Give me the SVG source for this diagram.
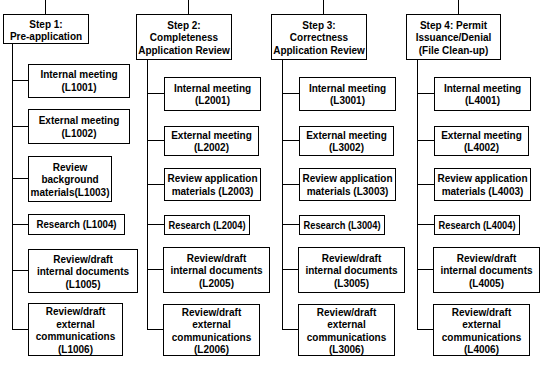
<svg xmlns="http://www.w3.org/2000/svg" width="548" height="368" viewBox="0 0 548 368">
<style>
rect{fill:#fff;stroke:#000;stroke-width:1}
line{stroke:#000;stroke-width:1}
text{font-family:"Liberation Sans",Arial,sans-serif;font-weight:bold;font-size:10px;text-anchor:middle;fill:#000}
</style>
<rect x="0" y="0" width="548" height="368" style="stroke:none"/>
<g id="connectors">
<line x1="45.5" y1="0" x2="45.5" y2="14"/>
<line x1="12.5" y1="43" x2="12.5" y2="329.5"/>
<line x1="12" y1="80.5" x2="28" y2="80.5"/>
<line x1="12" y1="126.5" x2="28" y2="126.5"/>
<line x1="12" y1="178.5" x2="28" y2="178.5"/>
<line x1="12" y1="224.5" x2="28" y2="224.5"/>
<line x1="12" y1="270.5" x2="28" y2="270.5"/>
<line x1="12" y1="329.5" x2="28" y2="329.5"/>
<line x1="188.5" y1="0" x2="188.5" y2="14"/>
<line x1="147.5" y1="59" x2="147.5" y2="329.5"/>
<line x1="147" y1="93.5" x2="164" y2="93.5"/>
<line x1="147" y1="140.5" x2="164" y2="140.5"/>
<line x1="147" y1="184.5" x2="164" y2="184.5"/>
<line x1="147" y1="224.5" x2="164" y2="224.5"/>
<line x1="147" y1="269.5" x2="163" y2="269.5"/>
<line x1="147" y1="329.5" x2="163" y2="329.5"/>
<line x1="323.5" y1="0" x2="323.5" y2="14"/>
<line x1="282.5" y1="59" x2="282.5" y2="329.5"/>
<line x1="282" y1="93.5" x2="299" y2="93.5"/>
<line x1="282" y1="140.5" x2="299" y2="140.5"/>
<line x1="282" y1="184.5" x2="299" y2="184.5"/>
<line x1="282" y1="224.5" x2="299" y2="224.5"/>
<line x1="282" y1="269.5" x2="298" y2="269.5"/>
<line x1="282" y1="329.5" x2="298" y2="329.5"/>
<line x1="458.5" y1="0" x2="458.5" y2="14"/>
<line x1="417.5" y1="59" x2="417.5" y2="329.5"/>
<line x1="417" y1="93.5" x2="434" y2="93.5"/>
<line x1="417" y1="140.5" x2="434" y2="140.5"/>
<line x1="417" y1="184.5" x2="434" y2="184.5"/>
<line x1="417" y1="224.5" x2="434" y2="224.5"/>
<line x1="417" y1="269.5" x2="433" y2="269.5"/>
<line x1="417" y1="329.5" x2="433" y2="329.5"/>
</g>
<g id="step1"><rect x="3.5" y="14.5" width="85" height="29"/><text><tspan x="46" y="27.5">Step 1:</tspan><tspan x="46" y="39.5">Pre-application</tspan></text></g>
<g id="L1001"><rect x="28.5" y="64.5" width="101" height="33"/><text><tspan x="79" y="78">Internal meeting</tspan><tspan x="79" y="91">(L1001)</tspan></text></g>
<g id="L1002"><rect x="28.5" y="109.5" width="101" height="34"/><text><tspan x="79" y="124">External meeting</tspan><tspan x="79" y="136.5">(L1002)</tspan></text></g>
<g id="L1003"><rect x="28.5" y="156.5" width="83" height="45"/><text><tspan x="70" y="170.5">Review</tspan><tspan x="70" y="183">background</tspan><tspan x="70" y="195.5">materials(L1003)</tspan></text></g>
<g id="L1004"><rect x="28.5" y="214.5" width="96" height="20"/><text x="76.5" y="228" textLength="80" lengthAdjust="spacingAndGlyphs">Research (L1004)</text></g>
<g id="L1005"><rect x="28.5" y="249.5" width="109" height="43"/><text><tspan x="83" y="262.5">Review/draft</tspan><tspan x="83" y="275">internal documents</tspan><tspan x="83" y="287.5">(L1005)</tspan></text></g>
<g id="L1006"><rect x="28.5" y="303.5" width="94" height="52"/><text><tspan x="75.5" y="315">Review/draft</tspan><tspan x="75.5" y="327.5">external</tspan><tspan x="75.5" y="340">communications</tspan><tspan x="75.5" y="352.5">(L1006)</tspan></text></g>
<g id="step2"><rect x="136.5" y="14.5" width="95" height="45"/><text><tspan x="184" y="28.5">Step 2:</tspan><tspan x="184" y="41">Completeness</tspan><tspan x="184" y="53.5">Application Review</tspan></text></g>
<g id="L2001"><rect x="164.5" y="77.5" width="96" height="33"/><text><tspan x="212.5" y="91.5">Internal meeting</tspan><tspan x="212.5" y="104">(L2001)</tspan></text></g>
<g id="L2002"><rect x="164.5" y="126.5" width="94" height="29"/><text><tspan x="211.5" y="138.5">External meeting</tspan><tspan x="211.5" y="151">(L2002)</tspan></text></g>
<g id="L2003"><rect x="164.5" y="168.5" width="96" height="32"/><text><tspan x="212.5" y="182">Review application</tspan><tspan x="212.5" y="194.5">materials (L2003)</tspan></text></g>
<g id="L2004"><rect x="164.5" y="215.5" width="85" height="19"/><text x="207" y="228.5" textLength="77" lengthAdjust="spacingAndGlyphs">Research (L2004)</text></g>
<g id="L2005"><rect x="163.5" y="247.5" width="106" height="45"/><text><tspan x="216.5" y="261.5">Review/draft</tspan><tspan x="216.5" y="274">internal documents</tspan><tspan x="216.5" y="286.5">(L2005)</tspan></text></g>
<g id="L2006"><rect x="163.5" y="304.5" width="96" height="51"/><text><tspan x="211.5" y="315.5">Review/draft</tspan><tspan x="211.5" y="328">external</tspan><tspan x="211.5" y="340.5">communications</tspan><tspan x="211.5" y="353">(L2006)</tspan></text></g>
<g id="step3"><rect x="271.5" y="14.5" width="95" height="45"/><text><tspan x="319" y="28.5">Step 3:</tspan><tspan x="319" y="41">Correctness</tspan><tspan x="319" y="53.5">Application Review</tspan></text></g>
<g id="L3001"><rect x="299.5" y="77.5" width="96" height="33"/><text><tspan x="347.5" y="91.5">Internal meeting</tspan><tspan x="347.5" y="104">(L3001)</tspan></text></g>
<g id="L3002"><rect x="299.5" y="126.5" width="94" height="29"/><text><tspan x="346.5" y="138.5">External meeting</tspan><tspan x="346.5" y="151">(L3002)</tspan></text></g>
<g id="L3003"><rect x="299.5" y="168.5" width="96" height="32"/><text><tspan x="347.5" y="182">Review application</tspan><tspan x="347.5" y="194.5">materials (L3003)</tspan></text></g>
<g id="L3004"><rect x="299.5" y="215.5" width="85" height="19"/><text x="342" y="228.5" textLength="77" lengthAdjust="spacingAndGlyphs">Research (L3004)</text></g>
<g id="L3005"><rect x="298.5" y="247.5" width="106" height="45"/><text><tspan x="351.5" y="261.5">Review/draft</tspan><tspan x="351.5" y="274">internal documents</tspan><tspan x="351.5" y="286.5">(L3005)</tspan></text></g>
<g id="L3006"><rect x="298.5" y="304.5" width="96" height="51"/><text><tspan x="346.5" y="315.5">Review/draft</tspan><tspan x="346.5" y="328">external</tspan><tspan x="346.5" y="340.5">communications</tspan><tspan x="346.5" y="353">(L3006)</tspan></text></g>
<g id="step4"><rect x="406.5" y="14.5" width="94" height="45"/><text><tspan x="453.5" y="28.5">Step 4: Permit</tspan><tspan x="453.5" y="41">Issuance/Denial</tspan><tspan x="453.5" y="53.5">(File Clean-up)</tspan></text></g>
<g id="L4001"><rect x="434.5" y="77.5" width="96" height="33"/><text><tspan x="482.5" y="91.5">Internal meeting</tspan><tspan x="482.5" y="104">(L4001)</tspan></text></g>
<g id="L4002"><rect x="434.5" y="126.5" width="94" height="29"/><text><tspan x="481.5" y="138.5">External meeting</tspan><tspan x="481.5" y="151">(L4002)</tspan></text></g>
<g id="L4003"><rect x="434.5" y="168.5" width="96" height="32"/><text><tspan x="482.5" y="182">Review application</tspan><tspan x="482.5" y="194.5">materials (L4003)</tspan></text></g>
<g id="L4004"><rect x="434.5" y="215.5" width="85" height="19"/><text x="477" y="228.5" textLength="77" lengthAdjust="spacingAndGlyphs">Research (L4004)</text></g>
<g id="L4005"><rect x="433.5" y="247.5" width="106" height="45"/><text><tspan x="486.5" y="261.5">Review/draft</tspan><tspan x="486.5" y="274">internal documents</tspan><tspan x="486.5" y="286.5">(L4005)</tspan></text></g>
<g id="L4006"><rect x="433.5" y="304.5" width="96" height="51"/><text><tspan x="481.5" y="315.5">Review/draft</tspan><tspan x="481.5" y="328">external</tspan><tspan x="481.5" y="340.5">communications</tspan><tspan x="481.5" y="353">(L4006)</tspan></text></g>
</svg>
